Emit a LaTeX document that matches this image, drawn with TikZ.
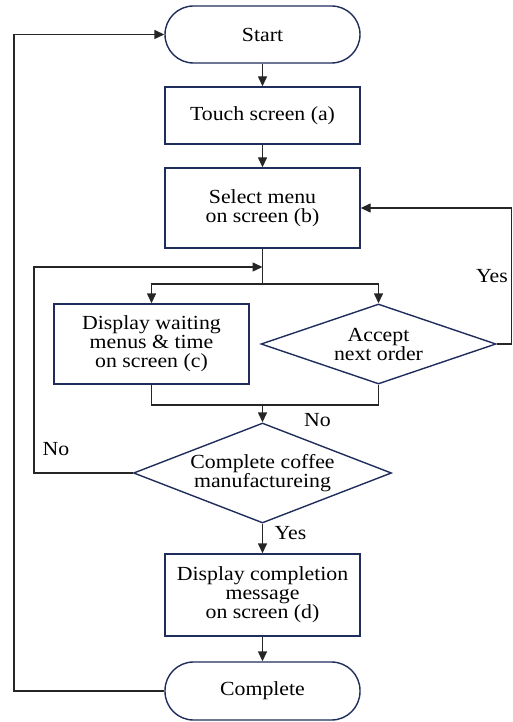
\documentclass[tikz,border=0pt]{standalone}
\usepackage{fontspec}
\setmainfont[FakeStretch=1.09]{Liberation Serif}
\usetikzlibrary{shapes.geometric,arrows.meta}
\definecolor{boxcol}{RGB}{31,45,92}
\begin{document}
\begin{tikzpicture}[x=1pt,y=-1pt,
  every node/.style={font=\fontsize{20}{19}\selectfont},
  term/.style={draw=boxcol,line width=1.4pt,rectangle,rounded corners=28.5pt,minimum width=195pt,minimum height=57pt,inner sep=0pt},
  proc/.style={draw=boxcol,line width=1.4pt,rectangle,minimum width=195pt,align=center,inner sep=0pt},
  dec/.style={draw=boxcol,line width=1.4pt,diamond,align=center,inner sep=0pt},
  conn/.style={draw=black!85,line width=1.4pt},
  arr/.style={conn,-{Triangle[length=10pt,width=9pt]}},
  lbl/.style={inner sep=0pt}]
\useasboundingbox (0,0) rectangle (513,722);
\node[term] (start) at (262.5,34.5) {Start};
\node[proc,minimum height=57pt] (touch) at (262.5,115.5) {Touch screen (a)};
\node[proc,minimum height=80pt] (select) at (262.5,208) {Select menu\\on screen (b)};
\node[proc,minimum height=80pt] (dispc) at (151.5,344) {Display waiting\\menus \& time\\on screen (c)};
\node[dec,minimum width=235pt,minimum height=80pt,aspect=2.94] (accept) at (378.5,344) {Accept\\next order};
\node[dec,minimum width=258pt,minimum height=100pt,aspect=2.58] (coffee) at (262.5,473) {Complete coffee\\manufactureing};
\node[proc,minimum height=82pt] (dispd) at (262.5,595) {Display completion\\message\\on screen (d)};
\node[term,minimum height=58pt] (complete) at (262.5,691) {Complete};

\coordinate (jb) at (262.5,284);
\coordinate (jm) at (262.5,405);
\coordinate (jl) at (262.5,267);
\coordinate (rr) at (511.5,344);
\coordinate (ll) at (34,473);
\coordinate (lo) at (14,691);

\draw[arr] (start) -- (touch);
\draw[arr] (touch) -- (select);
\draw[conn] (select.south) -- (jb);
\draw[arr] (jb) -| (dispc.north);
\draw[arr] (jb) -| (accept.north);
\draw[conn] (dispc.south) |- (jm) -| (accept.south);
\draw[arr] (jm) -- (coffee.north);
\draw[arr] (accept.east) -- (rr) |- (select.east);
\draw[arr] (coffee.west) -- (ll) |- (jl);
\draw[arr] (coffee.south) -- (dispd.north);
\draw[arr] (dispd) -- (complete);
\draw[arr] (complete.west) -- (lo) |- (start.west);

\node[lbl] (yes1) at (492,276) {Yes};
\node[lbl] (no1) at (317.5,420) {No};
\node[lbl] (no2) at (56,449) {No};
\node[lbl] (yes2) at (290.5,533) {Yes};
\end{tikzpicture}
\end{document}
